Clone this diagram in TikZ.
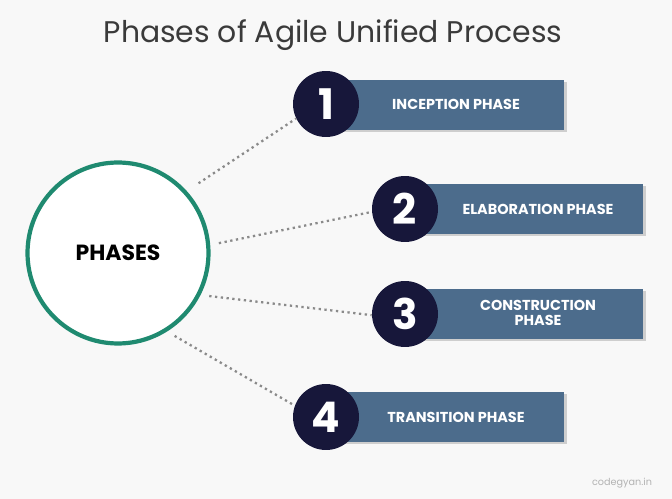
\documentclass[tikz,border=0pt]{standalone}
\usepackage{fontspec}
\setmainfont{Poppins}
\usetikzlibrary{shadows}
\definecolor{ringgreen}{HTML}{1F8A70}
\definecolor{boxblue}{HTML}{4C6C8C}
\definecolor{numnavy}{HTML}{17173A}
\definecolor{titlegray}{HTML}{3A3A3A}
\definecolor{bggray}{HTML}{F8F8F8}
\definecolor{linkgray}{HTML}{8A8A8A}

\begin{document}
\begin{tikzpicture}[x=0.02cm,y=-0.02cm,
        phasebox/.style={rectangle,fill=boxblue,minimum width=4.7cm,minimum height=1cm,
                drop shadow={opacity=0.35,shadow xshift=1.2pt,shadow yshift=-1.2pt}},
        numdisc/.style={circle,fill=numnavy,minimum size=1.32cm,inner sep=0pt,text=white,
                font=\bfseries\fontsize{24}{24}\selectfont},
        phaselabel/.style={text=white,align=center,font=\bfseries\fontsize{8.2}{8.6}\selectfont},
        link/.style={linkgray,line width=1.3pt,dash pattern=on 1.3pt off 2pt}]
        \fill[bggray] (0,0) rectangle (672,499);
        \node [text=titlegray,font=\fontsize{17}{17}\selectfont] (title) at (333,35) {Phases of Agile Unified Process};
        \node [circle,draw=ringgreen,line width=2.4pt,fill=white,minimum size=3.62cm,font=\bfseries\fontsize{12.5}{12.5}\selectfont] (ring) at (118,253) {PHASES};
        \node [phasebox] (box1) at (447,105) {};
        \node [phasebox] (box2) at (526,209) {};
        \node [phasebox] (box3) at (526,314) {};
        \node [phasebox] (box4) at (447,417) {};
        \node [numdisc] (num1) at (326,104) {1};
        \node [numdisc] (num2) at (405,209) {2};
        \node [numdisc] (num3) at (405,314) {3};
        \node [numdisc] (num4) at (326,417) {4};
        \node [phaselabel] (lab1) at (456,104) {INCEPTION PHASE};
        \node [phaselabel] (lab2) at (538,209) {ELABORATION PHASE};
        \node [phaselabel] (lab3) at (538,313) {CONSTRUCTION\\PHASE};
        \node [phaselabel] (lab4) at (456,417) {TRANSITION PHASE};
        \draw[link,shorten <=8pt] (ring.42) -- (num1.206);
        \draw[link,shorten <=5pt] (ring.5) -- (num2.185);
        \draw[link,shorten <=5pt] (ring.-27) -- (num3.182);
        \draw[link,shorten <=5pt] (ring.-58) -- (num4.160);
        \node [text=gray!60,font=\fontsize{5.5}{5.5}\selectfont] (credit) at (622,483) {codegyan.in};
\end{tikzpicture}
\end{document}
